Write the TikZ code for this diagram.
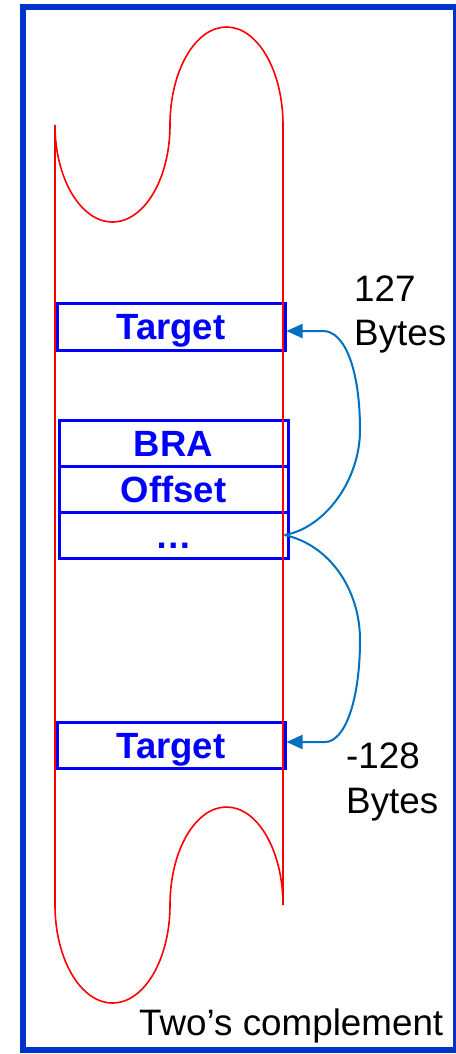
\documentclass[tikz,border=0pt]{standalone}
\usepackage{fontspec}
\setmainfont{Liberation Sans}
\usetikzlibrary{arrows.meta}
\definecolor{framebl}{HTML}{0033CC}
\definecolor{cellbl}{HTML}{0000FF}
\definecolor{jumpbl}{HTML}{0070C0}
\definecolor{memred}{HTML}{FF0000}

\begin{document}
\begin{tikzpicture}[x=1pt,y=-1pt,
  cell/.style={draw=cellbl, line width=3pt, minimum width=228pt, minimum height=46pt,
    inner sep=0pt, text=cellbl, font=\fontsize{36.5}{43}\selectfont\bfseries,
    text height=26pt, text depth=0pt},
  lbl/.style={anchor=base west, inner sep=0pt, font=\fontsize{36.8}{44}\selectfont},
  jump/.style={draw=jumpbl, line width=2pt, -{Triangle[length=16pt,width=14pt]}},
  mem/.style={draw=memred, line width=1.6pt},
]
\useasboundingbox (0,0) rectangle (455,1054);

% outer frame
\draw[framebl, line width=6pt] (23,7) rectangle (455.5,1050);

% memory cells
\node[cell, minimum height=47pt] (tgtA) at (171,326.5) {Target};
\node[cell, minimum width=229pt] (bra)  at (173.5,443) {BRA};
\node[cell, minimum width=229pt] (off)  at (173.5,489) {Offset};
\node[cell, minimum width=229pt] (dots) at (173.5,535) {…};
\node[cell] (tgtB) at (171,745) {Target};

% memory strip with torn ends
\draw[mem] (55,125) -- (55,905)
  .. controls (55,959.1) and (80.7,1003) .. (112.5,1003)
  .. controls (144.3,1003) and (170,959.1) .. (170,905)
  .. controls (170,850.9) and (195.3,807) .. (226.5,807)
  .. controls (257.7,807) and (283,850.9) .. (283,905)
  -- (283,125)
  .. controls (283,70.9) and (257.7,27) .. (226.5,27)
  .. controls (195.3,27) and (170,70.9) .. (170,125)
  .. controls (170,178.6) and (144.3,222) .. (112.5,222)
  .. controls (80.7,222) and (55,178.6) .. (55,125);

% branch range arrows
\draw[jump] ([xshift=-5pt]dots.east)
  .. controls (325,528) and (360,480) .. (360,430)
  .. controls (360,370) and (345,331) .. (323,331)
  -- ([yshift=-4.5pt]tgtA.east);
\draw[jump] ([xshift=-5pt]dots.east)
  .. controls (330,545) and (360,590) .. (360,640)
  .. controls (360,700) and (345,742) .. (325,742)
  -- ([yshift=3pt]tgtB.east);

% labels
\node[lbl] (fwd)  at (354,301) {127};
\node[lbl] (fwdb) at (354,345) {Bytes};
\node[lbl] (bwd)  at (346,768) {-128};
\node[lbl] (bwdb) at (346,813) {Bytes};
\node[lbl] (note) at (139,1035) {Two’s complement};
\end{tikzpicture}
\end{document}
